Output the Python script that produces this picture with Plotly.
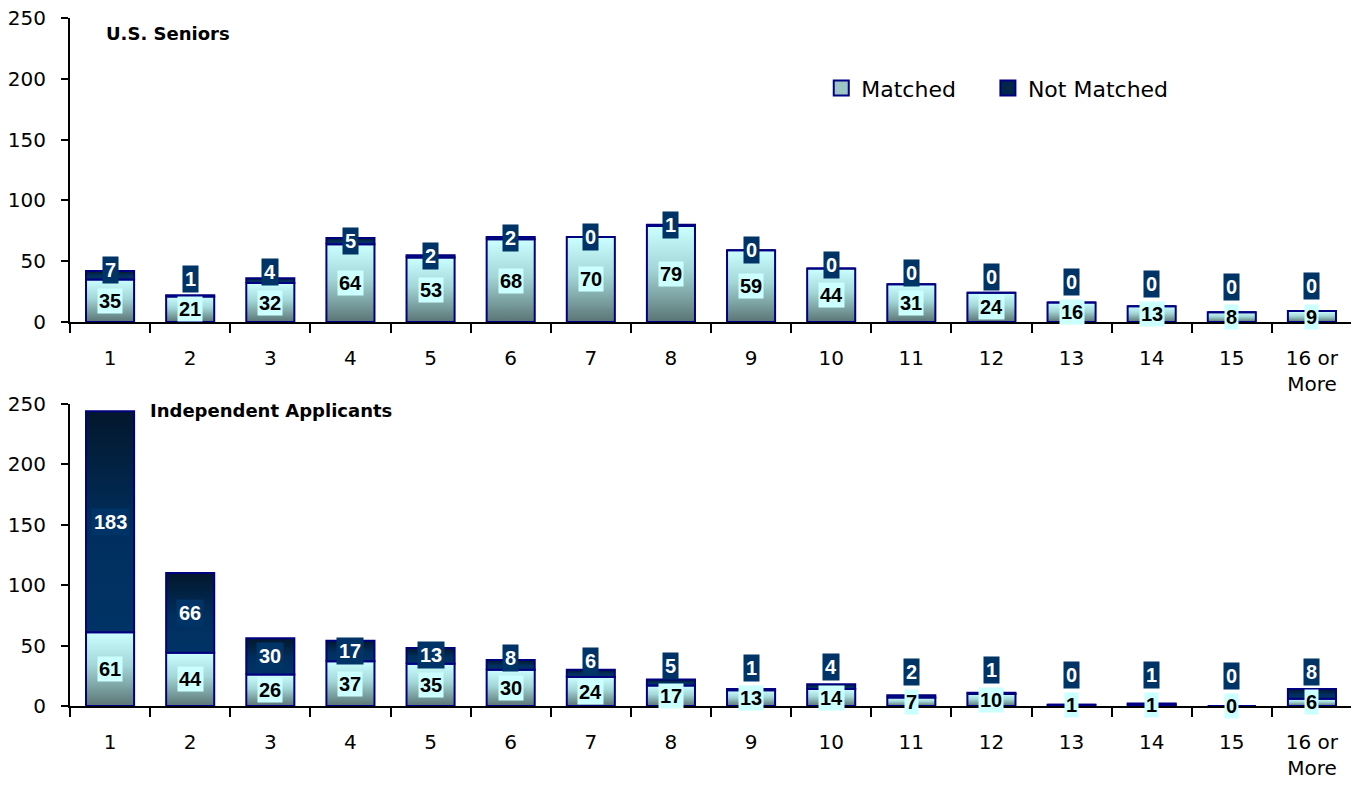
import plotly.graph_objects as go

categories = ["1", "2", "3", "4", "5", "6", "7", "8", "9", "10", "11", "12", "13", "14", "15", "16 or<br>More"]
seniors_matched = [35, 21, 32, 64, 53, 68, 70, 79, 59, 44, 31, 24, 16, 13, 8, 9]
seniors_not_matched = [7, 1, 4, 5, 2, 2, 0, 1, 0, 0, 0, 0, 0, 0, 0, 0]
indep_matched = [61, 44, 26, 37, 35, 30, 24, 17, 13, 14, 7, 10, 1, 1, 0, 6]
indep_not_matched = [183, 66, 30, 17, 13, 8, 6, 5, 1, 4, 2, 1, 0, 1, 0, 8]
panel_titles = ["U.S. Seniors", "Independent Applicants"]
y_ticks = [0, 50, 100, 150, 200, 250]

MATCHED_SCALE = [[0, "#5a7474"], [0.55, "#a3d6d6"], [1, "#ccffff"]]
NOT_MATCHED_SCALE = [[0, "#003366"], [0.45, "#002f5e"], [1, "#03172c"]]
OUTLINE = "#000080"
BAR_W = 0.6

fig = go.Figure()

positions = list(range(1, len(categories) + 1))


def add_panel(matched, not_matched, xref, yref):
    for i, (m, n) in enumerate(zip(matched, not_matched)):
        xc = positions[i]
        x0, x1 = xc - BAR_W / 2, xc + BAR_W / 2
        # matched segment
        fig.add_trace(go.Scatter(
            x=[x0, x1, x1, x0, x0], y=[0, 0, m, m, 0],
            xaxis=xref, yaxis=yref, mode="lines", fill="toself",
            fillgradient=dict(type="vertical", colorscale=MATCHED_SCALE),
            line=dict(color=OUTLINE, width=2), showlegend=False, hoverinfo="skip"))
        # not matched segment
        fig.add_trace(go.Scatter(
            x=[x0, x1, x1, x0, x0], y=[m, m, m + n, m + n, m],
            xaxis=xref, yaxis=yref, mode="lines", fill="toself",
            fillgradient=dict(type="vertical", colorscale=NOT_MATCHED_SCALE),
            line=dict(color=OUTLINE, width=2), showlegend=False, hoverinfo="skip"))
        # labels
        m_y = m / 2
        n_y = max(m + n / 2, m_y + 25)
        fig.add_annotation(x=xc, y=m_y, xref=xref, yref=yref, text=f"<b>{m}</b>",
                           showarrow=False, bgcolor="#ccffff", borderpad=1,
                           font=dict(family="Liberation Sans", size=20, color="black"))
        fig.add_annotation(x=xc, y=n_y, xref=xref, yref=yref, text=f"<b>{n}</b>",
                           showarrow=False, bgcolor="#003366", borderpad=2,
                           font=dict(family="Liberation Sans", size=20, color="white"))


add_panel(seniors_matched, seniors_not_matched, "x", "y")
add_panel(indep_matched, indep_not_matched, "x2", "y2")

# legend entries
fig.add_trace(go.Scatter(x=[None], y=[None], name="Matched", mode="markers", legend="legend",
                         marker=dict(symbol="square", size=15, color="#9cc6c6",
                                     line=dict(color=OUTLINE, width=2))))
fig.add_trace(go.Scatter(x=[None], y=[None], name="Not Matched", mode="markers", legend="legend2",
                         marker=dict(symbol="square", size=15, color="#04254a",
                                     line=dict(color=OUTLINE, width=2))))

xaxis_common = dict(
    range=[0.5, 16.5], tickmode="array", tickvals=positions, ticktext=categories,
    showline=True, linecolor="black", linewidth=2, ticks="outside", ticklen=17,
    tickcolor="rgba(0,0,0,0)", showgrid=False, zeroline=False, automargin=False,
    ticklabeloverflow="allow",
    tickfont=dict(family="DejaVu Sans", size=20, color="black"),
    minor=dict(tickmode="array", tickvals=[p + 0.5 for p in positions] + [0.5],
               ticks="outside", ticklen=9, tickwidth=2, tickcolor="black", showgrid=False),
    fixedrange=True,
)
yaxis_common = dict(
    range=[0, 250], tickmode="array", tickvals=y_ticks, showline=True, linecolor="black",
    linewidth=2, ticks="outside", ticklen=7, tickwidth=2, tickcolor="black",
    showgrid=False, zeroline=False, ticklabelstandoff=11, automargin=False,
    ticklabeloverflow="allow",
    tickfont=dict(family="DejaVu Sans", size=20, color="black"), fixedrange=True,
)

legend_common = dict(orientation="h", y=0.898, xanchor="left", yanchor="middle",
                     font=dict(family="DejaVu Sans", size=22, color="black"),
                     bgcolor="rgba(0,0,0,0)", itemwidth=30)

fig.update_layout(
    width=1351, height=777,
    margin=dict(l=62, r=7, t=10, b=79, autoexpand=False),
    paper_bgcolor="white", plot_bgcolor="white",
    xaxis=dict(**xaxis_common, anchor="y"),
    yaxis=dict(**yaxis_common, domain=[0.5581, 1.0], anchor="x"),
    xaxis2=dict(**xaxis_common, anchor="y2"),
    yaxis2=dict(**yaxis_common, domain=[0.0, 0.43895], anchor="x2"),
    showlegend=True,
    legend=dict(**legend_common, x=0.586),
    legend2=dict(**legend_common, x=0.716),
)

fig.add_annotation(x=0.0266, y=0.978, xref="paper", yref="paper", xanchor="left",
                   yanchor="middle", text=f"<b>{panel_titles[0]}</b>", showarrow=False,
                   font=dict(family="DejaVu Sans", size=18, color="black"))
fig.add_annotation(x=0.0608, y=0.4288, xref="paper", yref="paper", xanchor="left",
                   yanchor="middle", text=f"<b>{panel_titles[1]}</b>", showarrow=False,
                   font=dict(family="DejaVu Sans", size=18, color="black"))

fig.write_html("out.html")
